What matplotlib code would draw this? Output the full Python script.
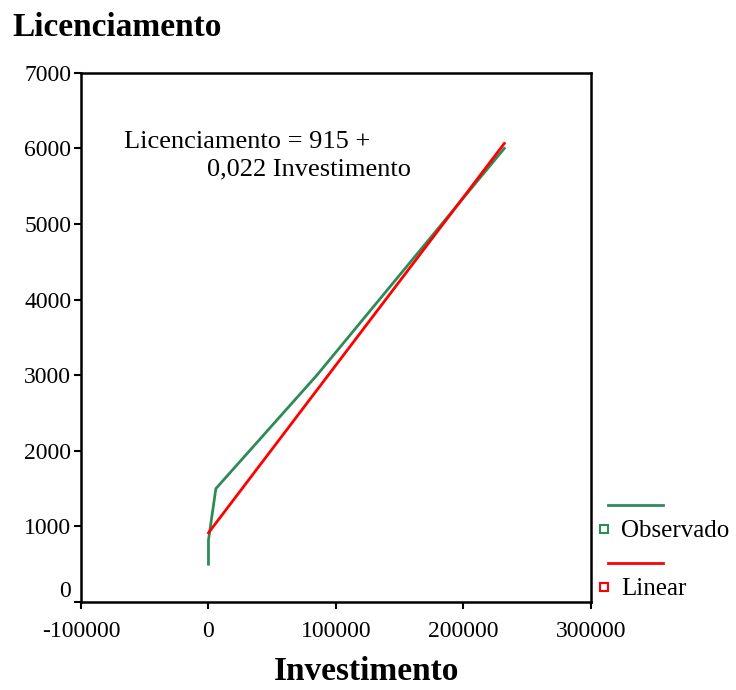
import matplotlib.pyplot as plt
from matplotlib.lines import Line2D

plt.rcParams['font.family'] = ['Liberation Serif', 'DejaVu Serif']
plt.rcParams['axes.unicode_minus'] = False

# Observações (Investimento x Licenciamento)
investimento = [0, 0, 5800, 85000, 232000]
licenciamento = [500, 820, 1500, 3000, 6000]

# Ajuste linear
intercepto = 915
coef = 0.0222
ajuste_x = [0, 5800, 85000, 232000]
ajuste_y = [intercepto + coef * v for v in ajuste_x]

verde = '#2e8b57'
vermelho = '#ff0000'

fig = plt.figure(figsize=(7.36, 6.9), dpi=100)
ax = fig.add_axes([0.110, 0.1275, 0.693, 0.767])

ax.plot(investimento, licenciamento, color=verde, lw=2)
ax.plot(ajuste_x, ajuste_y, color=vermelho, lw=2)

ax.set_xlim(-100000, 300000)
ax.set_ylim(0, 7000)
ax.set_xticks([-100000, 0, 100000, 200000, 300000])
ax.set_yticks(range(0, 7001, 1000))
ax.tick_params(labelsize=17, width=1.5, length=5, top=False, right=False)
ax.tick_params(axis='y', pad=2)
ax.tick_params(axis='x', pad=9)
for s in ax.spines.values():
    s.set_linewidth(1.8)

# o rótulo "0" fica acima do traço para não colidir com -100000
ax.yaxis.get_major_ticks()[0].label1.set_verticalalignment('bottom')

ax.text(-66000, 6080, 'Licenciamento = 915 +', fontsize=19, va='center')
ax.text(-1000, 5720, '0,022 Investimento', fontsize=19, va='center')

fig.text(12 / 736, 1 - 28 / 690, 'Licenciamento', fontsize=24, fontweight='bold',
         va='center', ha='left')
fig.text(367 / 736, 1 - 672 / 690, 'Investimento', fontsize=24, fontweight='bold',
         va='center', ha='center')

# Legenda
def fx(px):
    return px / 736

def fy(py):
    return 1 - py / 690

for cor, nome, ylin, ytxt in [(verde, 'Observado', 505, 531), (vermelho, 'Linear', 563, 589)]:
    fig.add_artist(Line2D([fx(608), fx(663)], [fy(ylin), fy(ylin)], color=cor, lw=2))
    fig.add_artist(Line2D([fx(604)], [fy(ytxt - 2)], marker='s', markersize=6,
                          markerfacecolor='white', markeredgecolor=cor, markeredgewidth=1.5))
    fig.text(fx(621), fy(ytxt), nome, fontsize=18, va='center', ha='left')

fig.savefig('out.png', dpi=100)
